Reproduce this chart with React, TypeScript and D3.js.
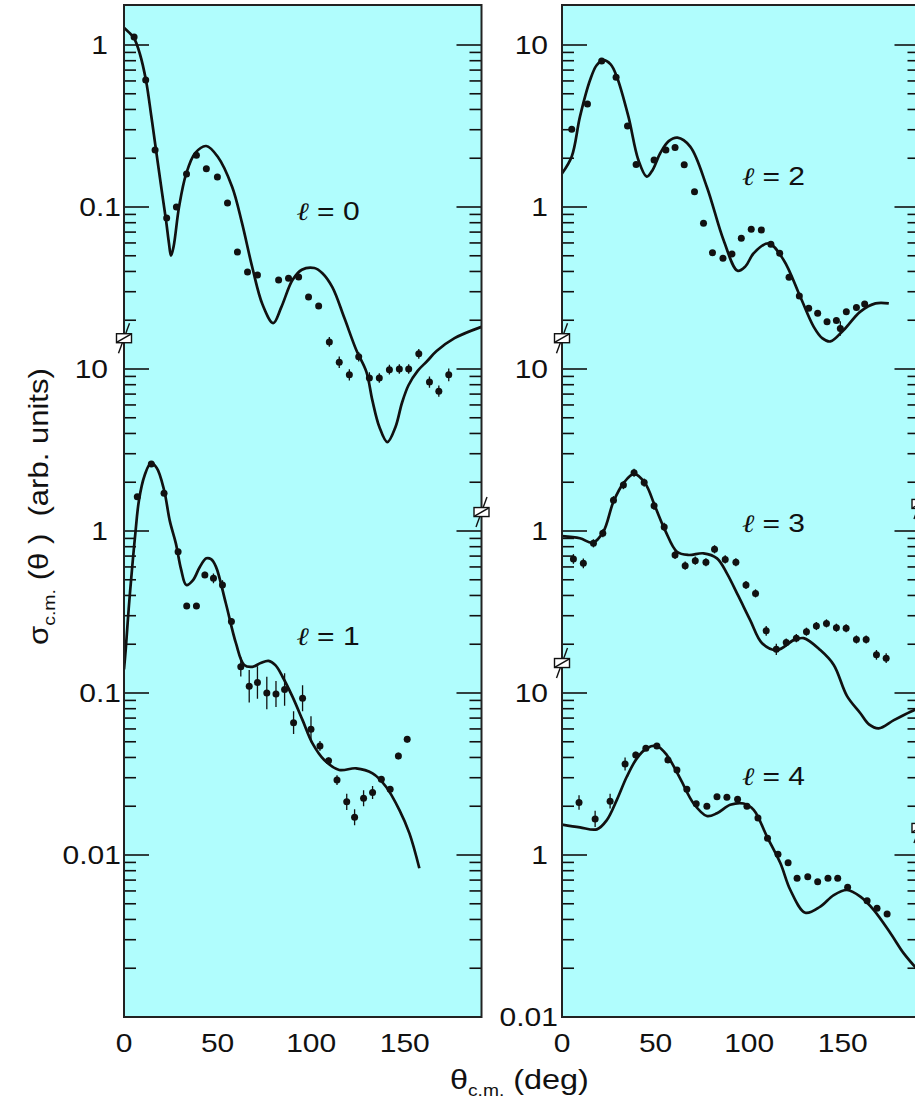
import React from "react";
import * as d3 from "d3";

// ---------------- data ----------------
const xTicks = [0, 50, 100, 150];
const xDomain = [0, 191];

const leftTickExp = [1, 2, 3, 4, 5, 6];
const leftTickText = ["0.01", "0.1", "1", "10", "0.1", "1"];
const rightTickExp = [0, 1, 2, 3, 4, 5, 6];
const rightTickText = ["0.01", "1", "10", "1", "10", "1", "10"];

// axis-break marks (positions as exponents of the stacked log axis)
const leftBreaksL = [4.19];
const leftBreaksR = [3.117];
const rightBreaksL = [4.19, 2.185];
const rightBreaksR = [3.167, 1.167];

// l = 0
const l0Factor = 1e6;
const l0CurveDeg = [0, 2.5, 5.4, 8.5, 11.8, 14.5, 17.1, 20, 22.5, 24, 25.1, 26.5, 29.4, 33.2, 38, 43.9, 50, 57.8, 63, 68.5, 74, 79.7, 84, 90, 95, 101.7, 106, 111.3, 117.7, 124.1, 129.5, 132.7, 136.4, 140.7, 145, 148.5, 152, 157, 162, 167, 176.6, 191];
const l0CurveVal = [1.28, 1.2, 1.1, 0.88, 0.6, 0.37, 0.225, 0.13, 0.082, 0.06, 0.05, 0.057, 0.1, 0.16, 0.215, 0.238, 0.205, 0.133, 0.08, 0.0426, 0.025, 0.0192, 0.024, 0.0354, 0.041, 0.042, 0.039, 0.032, 0.0207, 0.0131, 0.0096, 0.0064, 0.0044, 0.00354, 0.00437, 0.00617, 0.00794, 0.00977, 0.0112, 0.0129, 0.0155, 0.0182];
const l0Deg = [5.4, 11.6, 16.6, 22.8, 28.0, 33.4, 38.7, 44.0, 49.9, 55.3, 60.6, 66.0, 71.3, 82.6, 87.9, 93.3, 98.6, 104.0, 109.7, 115.0, 120.4, 125.4, 131.1, 136.4, 141.8, 147.1, 152.1, 157.5, 163.2, 168.2, 173.5];
const l0Val = [1.12, 0.608, 0.225, 0.0855, 0.1, 0.16, 0.209, 0.172, 0.153, 0.106, 0.0527, 0.0397, 0.038, 0.0354, 0.0363, 0.037, 0.0278, 0.0245, 0.0147, 0.011, 0.0092, 0.0119, 0.0088, 0.0088, 0.0099, 0.01, 0.01, 0.0124, 0.0083, 0.0073, 0.0092];
const l0Err = [0, 0, 0, 0, 0, 0, 0, 0, 0, 0, 0, 0, 0, 0, 0, 0, 0, 0, 0.03, 0.035, 0.035, 0.03, 0.035, 0.03, 0.03, 0.03, 0.03, 0.03, 0.035, 0.035, 0.04];
const l0LabelAt = [92, 0.083];

// l = 1
const l1Factor = 1e3;
const l1CurveDeg = [0, 0.9, 2.5, 4.4, 6, 8, 11, 14.3, 17.5, 21.4, 24.5, 27.7, 30.5, 33.3, 37, 40.5, 44, 46.5, 49.1, 54.4, 59.8, 64.2, 68.6, 73, 77.2, 81, 84.7, 90, 95.4, 100.7, 107, 115, 124, 132.8, 140, 147.1, 152.5, 157.8];
const l1CurveVal = [0.14, 0.184, 0.33, 0.603, 0.95, 1.55, 2.2, 2.62, 2.45, 1.79, 1.15, 0.839, 0.58, 0.464, 0.5, 0.6, 0.678, 0.67, 0.603, 0.358, 0.203, 0.149, 0.145, 0.153, 0.158, 0.148, 0.126, 0.0949, 0.068, 0.0489, 0.0386, 0.0335, 0.0343, 0.0319, 0.0264, 0.019, 0.0136, 0.00828];
const l1Deg = [7.1, 14.6, 21.4, 28.9, 33.5, 38.7, 43.2, 47.8, 52.6, 57.4, 62.4, 66.9, 71.3, 76.3, 81.2, 85.8, 90.6, 95.4, 99.9, 104.7, 109.3, 113.8, 119, 123.2, 128, 132.8, 137.5, 142.2, 146.6, 151.3];
const l1Val = [1.63, 2.59, 1.71, 0.744, 0.344, 0.344, 0.536, 0.51, 0.464, 0.276, 0.145, 0.11, 0.116, 0.1, 0.0986, 0.105, 0.0656, 0.0927, 0.0597, 0.0471, 0.0382, 0.029, 0.0213, 0.0171, 0.0224, 0.0243, 0.0293, 0.0255, 0.0408, 0.0518];
const l1Err = [0, 0, 0, 0, 0.01, 0.01, 0.02, 0.03, 0.03, 0.02, 0.06, 0.1, 0.1, 0.1, 0.08, 0.1, 0.07, 0.08, 0.08, 0.03, 0.02, 0.03, 0.05, 0.05, 0.05, 0.04, 0.02, 0.02, 0.02, 0.02];
const l1LabelAt = [92, 0.198];

// l = 2
const l2Factor = 1e5;
const l2CurveDeg = [0, 5.2, 9.6, 15, 18.5, 22.1, 26, 29.3, 35.5, 40.8, 45.3, 48.5, 52.4, 57, 61.7, 68.5, 77.4, 86.3, 93.8, 98, 102.4, 110.4, 118.4, 127.3, 134.5, 139, 143.4, 150.5, 159.4, 167.5, 174.6];
const l2CurveVal = [1.61, 2.05, 3.61, 6.08, 7.5, 8.07, 7.6, 6.37, 3.61, 1.95, 1.54, 1.7, 2.14, 2.55, 2.68, 2.36, 1.33, 0.625, 0.404, 0.43, 0.518, 0.597, 0.471, 0.279, 0.182, 0.155, 0.148, 0.174, 0.226, 0.254, 0.254];
const l2Deg = [5.2, 13.6, 21.2, 28.9, 35, 39.6, 49.2, 55.5, 60.4, 65.3, 70.8, 75.6, 80.4, 86, 90.8, 95.8, 101.1, 106.5, 111.6, 116.3, 121.3, 126.8, 131.8, 136.6, 141.6, 146.6, 148.7, 151.9, 157.3, 161.7];
const l2Val = [3.02, 4.32, 7.96, 6.32, 3.16, 1.83, 1.95, 2.25, 2.33, 1.82, 1.24, 0.794, 0.522, 0.482, 0.513, 0.641, 0.728, 0.721, 0.589, 0.518, 0.368, 0.282, 0.237, 0.221, 0.196, 0.199, 0.178, 0.226, 0.24, 0.252];
const l2Err = [0, 0, 0, 0, 0, 0, 0, 0, 0, 0, 0, 0, 0, 0, 0, 0, 0, 0, 0, 0, 0, 0, 0, 0, 0, 0, 0.045, 0, 0, 0];
const l2LabelAt = [96, 1.37];

// l = 3
const l3Factor = 1e3;
const l3CurveDeg = [0, 9.6, 16.4, 22.1, 27.5, 32.8, 38.5, 44.4, 49.8, 55.1, 61.4, 67.6, 75.6, 82.8, 88.1, 94.4, 100.6, 106.9, 114.9, 123.8, 129.1, 138, 145.2, 152.3, 159.4, 164, 169.2, 177.3, 186.2, 191];
const l3CurveVal = [0.93, 0.902, 0.847, 0.99, 1.52, 1.97, 2.25, 1.97, 1.41, 1.01, 0.745, 0.711, 0.728, 0.678, 0.548, 0.393, 0.281, 0.203, 0.184, 0.212, 0.218, 0.184, 0.149, 0.0956, 0.075, 0.064, 0.0605, 0.068, 0.0767, 0.081];
const l3Deg = [6.1, 11.4, 16.8, 21.8, 27.5, 32.8, 38.5, 43.9, 49.2, 54.6, 60.4, 65.8, 71.2, 76.9, 81.5, 87.2, 92.9, 98.3, 103.4, 109.1, 114.5, 119.8, 125.2, 130.6, 135.9, 141.3, 146.6, 151.8, 157.3, 162.5, 168, 173.2];
const l3Val = [0.672, 0.632, 0.839, 0.968, 1.55, 1.92, 2.29, 1.99, 1.43, 1.06, 0.711, 0.611, 0.656, 0.641, 0.771, 0.668, 0.641, 0.464, 0.412, 0.242, 0.186, 0.205, 0.218, 0.239, 0.259, 0.269, 0.253, 0.251, 0.214, 0.214, 0.172, 0.164];
const l3Err = [0.03, 0.03, 0.025, 0.025, 0.025, 0.025, 0.025, 0.025, 0.025, 0.025, 0.025, 0.025, 0.025, 0.025, 0.025, 0.025, 0.025, 0.025, 0.025, 0.03, 0.035, 0.025, 0.025, 0.025, 0.025, 0.025, 0.025, 0.025, 0.025, 0.025, 0.03, 0.03];
const l3LabelAt = [96, 0.986];

// l = 4
const l4Factor = 10;
const l4CurveDeg = [0, 9.6, 18.6, 23.9, 29.3, 34.6, 40, 45.3, 50.7, 56, 63.1, 70.3, 77.4, 82.8, 89.9, 97, 102.4, 109.5, 116.7, 122, 130, 138, 145.2, 152.3, 159.4, 166.6, 175.5, 182.6, 191];
const l4CurveVal = [1.54, 1.48, 1.44, 1.64, 2.19, 3.04, 3.95, 4.56, 4.71, 4.14, 2.97, 2.08, 1.74, 1.81, 2.04, 2.08, 1.9, 1.3, 0.889, 0.608, 0.44, 0.48, 0.566, 0.608, 0.553, 0.457, 0.329, 0.247, 0.19];
const l4Deg = [9.1, 17.7, 25.7, 33.7, 39.4, 44.8, 50.7, 56.6, 61.4, 66.7, 71.7, 77.4, 82.8, 88.1, 93.8, 98.8, 104.7, 109.8, 115.4, 120.8, 125.6, 131.3, 136.6, 142.1, 147.3, 152.6, 163, 168.3, 173.7];
const l4Val = [2.11, 1.67, 2.15, 3.65, 4.14, 4.56, 4.71, 3.86, 3.35, 2.55, 2.07, 2.0, 2.29, 2.27, 2.21, 2.0, 1.69, 1.27, 1.01, 0.897, 0.718, 0.735, 0.684, 0.718, 0.718, 0.632, 0.522, 0.469, 0.432];
const l4Err = [0.045, 0.05, 0.045, 0.04, 0.02, 0.015, 0.015, 0.015, 0.015, 0.015, 0.015, 0.015, 0.015, 0.015, 0.015, 0.015, 0.015, 0.015, 0.015, 0.015, 0.015, 0.015, 0.015, 0.015, 0.015, 0.015, 0.015, 0.015, 0.015];
const l4LabelAt = [96, 2.7];

// ---------------- layout ----------------
const W = 915;
const H = 1103;
const TOP = 5;
const BOTTOM = 1017;
const DECADE = 162;
const SX = 1.2; // horizontal text stretch
const FONT = "'Liberation Sans', Arial, Helvetica, sans-serif";
const BG = "#b0fdfd";
const INK = "#111";

const yScale = d3.scaleLog().domain([1, 1e6]).range([BOTTOM, BOTTOM - 6 * DECADE]);

type Series = {
  name: string;
  factor: number;
  curveDeg: number[];
  curveVal: number[];
  deg: number[];
  val: number[];
  err: number[];
  labelAt: number[];
};

const mk = (name: string, factor: number, curveDeg: number[], curveVal: number[], deg: number[], val: number[], err: number[], labelAt: number[]): Series => ({ name, factor, curveDeg, curveVal, deg, val, err, labelAt });

const panels = [
  {
    id: "L",
    x0: 124,
    x1: 481.5,
    tickExp: leftTickExp,
    tickText: leftTickText,
    intOffset: 16,
    decOffset: 3,
    breaksL: leftBreaksL,
    breaksR: leftBreaksR,
    series: [
      mk("0", l0Factor, l0CurveDeg, l0CurveVal, l0Deg, l0Val, l0Err, l0LabelAt),
      mk("1", l1Factor, l1CurveDeg, l1CurveVal, l1Deg, l1Val, l1Err, l1LabelAt),
    ],
  },
  {
    id: "R",
    x0: 562,
    x1: 919.5,
    tickExp: rightTickExp,
    tickText: rightTickText,
    intOffset: 14,
    decOffset: 4,
    breaksL: rightBreaksL,
    breaksR: rightBreaksR,
    series: [
      mk("2", l2Factor, l2CurveDeg, l2CurveVal, l2Deg, l2Val, l2Err, l2LabelAt),
      mk("3", l3Factor, l3CurveDeg, l3CurveVal, l3Deg, l3Val, l3Err, l3LabelAt),
      mk("4", l4Factor, l4CurveDeg, l4CurveVal, l4Deg, l4Val, l4Err, l4LabelAt),
    ],
  },
];

function BreakMark({ x, y }: { x: number; y: number }) {
  return (
    <g>
      <line x1={x - 5.5} y1={y + 15} x2={x + 5.5} y2={y - 15} stroke={INK} strokeWidth={1.4} />
      <rect x={x - 7.5} y={y - 4.5} width={15} height={9} fill="#fff" stroke={INK} strokeWidth={1.4} />
      <line x1={x - 7} y1={y + 4} x2={x + 7} y2={y - 4} stroke={INK} strokeWidth={1.4} />
    </g>
  );
}

function Panel({ p }: { p: (typeof panels)[number] }) {
  const x = d3.scaleLinear().domain(xDomain).range([p.x0, p.x1]);
  const majorLen = 25;
  const minorLen = 12;
  const ticks: { y: number; len: number }[] = [];
  for (let e = 0; e <= 6; e++) {
    const base = Math.pow(10, e);
    ticks.push({ y: yScale(base), len: majorLen });
    for (let m = 2; m <= 9; m++) {
      const yy = yScale(base * m);
      if (yy >= TOP + 1) ticks.push({ y: yy, len: minorLen });
    }
  }
  const clipId = `clip-${p.id}`;
  return (
    <g>
      <defs>
        <clipPath id={clipId}>
          <rect x={p.x0} y={TOP} width={p.x1 - p.x0} height={BOTTOM - TOP} />
        </clipPath>
      </defs>
      <rect x={p.x0} y={TOP} width={p.x1 - p.x0} height={BOTTOM - TOP} fill={BG} />
      {ticks.map((t, i) => (
        <g key={i}>
          <line x1={p.x0} x2={p.x0 + t.len} y1={t.y} y2={t.y} stroke={INK} strokeWidth={1.6} />
          <line x1={p.x1 - t.len} x2={p.x1} y1={t.y} y2={t.y} stroke={INK} strokeWidth={1.6} />
        </g>
      ))}
      <g clipPath={`url(#${clipId})`}>
        {p.series.map((s) => {
          const pts = s.curveDeg.map((d, i) => [d, s.curveVal[i]] as [number, number]);
          const line = d3
            .line<[number, number]>()
            .x((d) => x(d[0]))
            .y((d) => yScale(d[1] * s.factor))
            .curve(d3.curveCatmullRom.alpha(0.5));
          return (
            <g key={s.name}>
              <path d={line(pts) || ""} fill="none" stroke={INK} strokeWidth={2.7} strokeLinejoin="round" />
              {s.deg.map((d, i) => {
                const v = s.val[i] * s.factor;
                const e = s.err[i];
                const cx = x(d);
                return (
                  <g key={i}>
                    {e > 0 && (
                      <line
                        x1={cx}
                        x2={cx}
                        y1={yScale(v * Math.pow(10, e))}
                        y2={yScale(v / Math.pow(10, e))}
                        stroke={INK}
                        strokeWidth={1.3}
                      />
                    )}
                    <circle cx={cx} cy={yScale(v)} r={3.5} fill={INK} />
                  </g>
                );
              })}
            </g>
          );
        })}
      </g>
      <rect x={p.x0} y={TOP} width={p.x1 - p.x0} height={BOTTOM - TOP} fill="none" stroke="#222" strokeWidth={2} />
      {p.breaksL.map((b, i) => (
        <BreakMark key={"bl" + i} x={p.x0} y={yScale(Math.pow(10, b))} />
      ))}
      {p.breaksR.map((b, i) => (
        <BreakMark key={"br" + i} x={p.x1} y={yScale(Math.pow(10, b))} />
      ))}
      {/* y tick labels */}
      {p.tickExp.map((e, i) => {
        const txt = p.tickText[i];
        const off = txt.includes(".") ? p.decOffset : p.intOffset;
        return (
          <text
            key={"yt" + i}
            transform={`translate(${p.x0 - off},${yScale(Math.pow(10, e))}) scale(${SX},1)`}
            textAnchor="end"
            dy="0.36em"
            fontSize={25}
            fontFamily={FONT}
            fill={INK}
          >
            {txt}
          </text>
        );
      })}
      {/* x tick labels */}
      {xTicks.map((t) => (
        <text
          key={"xt" + t}
          transform={`translate(${x(t)},1052) scale(${SX},1)`}
          textAnchor="middle"
          fontSize={25}
          fontFamily={FONT}
          fill={INK}
        >
          {t}
        </text>
      ))}
      {/* l labels */}
      {p.series.map((s) => (
        <text
          key={"lab" + s.name}
          transform={`translate(${x(s.labelAt[0])},${yScale(s.labelAt[1] * s.factor)}) scale(${SX},1)`}
          fontSize={25}
          fontFamily={FONT}
          fill={INK}
          style={{ whiteSpace: "pre" }}
        >
          <tspan fontFamily="'DejaVu Serif', serif" fontStyle="italic">ℓ</tspan>
          {" = " + s.name}
        </text>
      ))}
    </g>
  );
}

export default function App() {
  return (
    <div style={{ position: "absolute", left: 0, top: 0 }}>
      <svg width={W} height={H} viewBox={`0 0 ${W} ${H}`} style={{ display: "block", background: "#fff" }}>
        {panels.map((p) => (
          <Panel key={p.id} p={p} />
        ))}
        {/* y axis title */}
        <text
          transform={`translate(48,645) rotate(-90) scale(1.15,1)`}
          fontSize={27}
          fontFamily={FONT}
          fill={INK}
          style={{ whiteSpace: "pre" }}
        >
          σ
          <tspan fontSize={17} dy={7}>c.m.</tspan>
          <tspan dy={-7}>{" (θ )  (arb. units)"}</tspan>
        </text>
        {/* x axis title */}
        <text
          transform={`translate(450,1089) scale(${SX},1)`}
          fontSize={27}
          fontFamily={FONT}
          fill={INK}
          style={{ whiteSpace: "pre" }}
        >
          θ
          <tspan fontSize={16} dy={7}>c.m.</tspan>
          <tspan dy={-7}>{" (deg)"}</tspan>
        </text>
      </svg>
    </div>
  );
}
